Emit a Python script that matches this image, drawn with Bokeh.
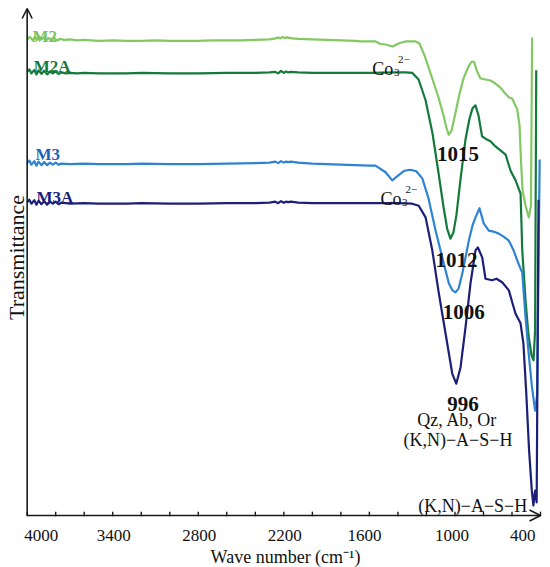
from bokeh.plotting import figure
from bokeh.models import Range1d, Label, Arrow, OpenHead
from bokeh.embed import file_html
from bokeh.resources import INLINE

# ---------------- data (wave number in cm^-1, transmittance in a.u.) ----------------
wn_m2 = [4000, 3980, 3960, 3945, 3930, 3915, 3900, 3885, 3870, 3850, 3830, 3810, 3790, 3770, 3740,
         3700, 3650, 3600, 3500, 3400, 3300, 3200, 3100, 3000, 2900, 2800, 2700, 2600, 2500, 2400,
         2300, 2260, 2240, 2225, 2210, 2195, 2180, 2160, 2140, 2100, 2000, 1900, 1800, 1700,
         1662, 1557, 1522, 1487, 1437, 1397, 1347, 1277, 1249, 1213, 1185, 1150, 1115, 1080, 1060,
         1044, 1024, 996, 968, 940, 905, 884, 866, 845, 821, 787, 751, 716, 681, 646, 618, 597, 585,
         564, 547, 537, 526, 505, 482, 467, 459]
t_m2 = [93.9, 94.4, 93.7, 94.5, 93.8, 94.5, 93.9, 94.3, 93.6, 94.2, 93.8, 94.2, 93.7, 94.0, 93.8,
        93.9, 93.7, 93.8, 93.6, 93.7, 93.6, 93.6, 93.7, 93.6, 93.6, 93.6, 93.7, 93.7, 93.7, 93.8,
        93.9, 94.1, 94.3, 94.1, 94.4, 94.2, 94.3, 94.2, 94.1, 94.0, 93.9, 93.8, 93.7, 93.6,
        93.5, 93.5, 93.0, 92.9, 92.5, 93.1, 93.5, 93.5, 93.1, 90.7, 88.4, 85.4, 82.4, 78.9, 76.5,
        75.1, 75.9, 79.5, 83.2, 86.2, 88.6, 89.5, 89.5, 87.6, 86.2, 86.0, 85.8, 85.2, 84.4, 83.2, 82.4, 82.2, 81.4,
        80.2, 76.9, 70.0, 64.1, 61.1, 58.8, 61.1, 94.3]

wn_m2a = [4000, 3985, 3970, 3950, 3935, 3920, 3900, 3880, 3860, 3840, 3820, 3800, 3780, 3760, 3730,
          3700, 3650, 3600, 3500, 3400, 3300, 3200, 3000, 2800, 2600, 2400, 2300, 2260, 2240, 2220,
          2200, 2185, 2170, 2150, 2100, 2000, 1800, 1600, 1400,
          1347, 1298, 1255, 1206, 1157, 1115, 1080, 1055, 1032, 1011, 990, 962, 927, 898, 877, 856,
          835, 810, 779, 751, 716, 681, 645, 610, 575, 540, 528, 505, 484, 463, 449, 438, 430]
t_m2a = [87.5, 88.0, 87.2, 87.9, 87.0, 87.8, 87.1, 87.7, 87.0, 87.6, 87.2, 87.6, 87.1, 87.4, 87.2,
         87.3, 87.2, 87.3, 87.2, 87.2, 87.2, 87.3, 87.2, 87.2, 87.3, 87.3, 87.4, 87.5, 87.2, 87.7,
         87.3, 87.6, 87.4, 87.5, 87.4, 87.3, 87.3, 87.3, 87.4,
         87.4, 87.3, 86.0, 81.9, 75.3, 67.5, 60.8, 56.6, 54.6, 55.8, 59.2, 66.1, 74.0, 78.3, 80.3, 80.9,
         78.9, 74.8, 74.2, 73.8, 72.8, 72.0, 71.2, 68.0, 66.1, 63.5, 52.3, 42.4, 35.5, 31.6, 30.6, 36.5, 87.8]

wn_m3 = [4000, 3985, 3970, 3950, 3935, 3920, 3900, 3880, 3860, 3840, 3820, 3800, 3780, 3760,
         3700, 3600, 3500, 3400, 3300, 3200, 3000, 2800, 2600, 2400, 2300, 2260, 2240, 2220,
         2200, 2185, 2170, 2150, 2100, 2000, 1900, 1800, 1700, 1600,
         1557, 1487, 1440, 1397, 1354, 1313, 1271, 1229, 1187, 1136, 1089, 1043, 1017, 996, 974,
         949, 926, 903, 877, 856, 828, 814, 798, 763, 730, 693, 659, 622, 589, 555, 528, 505, 485,
         461, 438, 424, 406]
t_m3 = [69.5, 70.0, 69.2, 69.9, 69.0, 69.8, 69.1, 69.7, 69.1, 69.6, 69.2, 69.6, 69.2, 69.4,
        69.3, 69.4, 69.3, 69.3, 69.3, 69.4, 69.3, 69.3, 69.4, 69.5, 69.6, 69.8, 69.5, 69.9,
        69.6, 69.8, 69.7, 69.8, 69.6, 69.4, 69.3, 69.2, 69.1, 69.0,
        69.0, 67.7, 66.1, 67.1, 68.0, 68.2, 67.9, 66.5, 62.7, 56.2, 50.9, 45.8, 44.4, 44.0, 44.8,
        47.7, 50.9, 54.2, 57.2, 58.8, 60.6, 59.2, 57.6, 56.2, 56.0, 55.6, 55.0, 54.2, 52.3, 49.7, 47.9, 39.1, 32.5,
        25.6, 20.7, 23.7, 70.2]

wn_m3a = [4000, 3985, 3970, 3950, 3935, 3920, 3900, 3880, 3860, 3840, 3820, 3800, 3780, 3760,
          3700, 3600, 3500, 3400, 3300, 3200, 3000, 2800, 2600, 2400, 2300, 2260, 2240, 2220,
          2200, 2185, 2170, 2150, 2100, 2000, 1800, 1600, 1400,
          1300, 1254, 1206, 1159, 1113, 1066, 1019, 991, 961, 926, 891, 856, 840, 809, 786, 739, 709,
          669, 622, 596, 575, 540, 520, 501, 480, 461, 450, 438, 427, 414]
t_m3a = [61.8, 62.3, 61.5, 62.2, 61.3, 62.1, 61.4, 62.0, 61.3, 61.9, 61.5, 61.9, 61.4, 61.7,
         61.5, 61.6, 61.5, 61.5, 61.5, 61.6, 61.5, 61.5, 61.6, 61.6, 61.7, 61.9, 61.6, 62.0,
         61.7, 61.9, 61.8, 61.9, 61.7, 61.6, 61.6, 61.6, 61.6,
         61.5, 61.1, 58.8, 52.3, 43.8, 35.9, 28.0, 26.0, 29.2, 37.1, 45.8, 52.3, 52.9, 50.9, 46.7, 46.4, 46.7,
         46.0, 44.4, 41.8, 39.8, 37.9, 33.9, 24.7, 12.8, 4.9, 2.0, 4.9, 2.6, 62.3]

series_names = ["M2", "M2A", "M3", "M3A"]
tick_values = [4000, 3400, 2800, 2200, 1600, 1000, 400]
tick_labels = ["4000", "3400", "2800", "2200", "1600", "1000", "400"]
minor_tick_values = [4000, 3800, 3600, 3400, 3200, 3000, 2800, 2600, 2400, 2200, 2000,
                     1800, 1600, 1400, 1200, 1000, 800, 600, 400]
x_title = "Wave number (cm\u207b\u00b9)"
y_title = "Transmittance"

# ---------------- styling ----------------
FONT = "Liberation Serif"
AXIS_COLOR = "#1a1a1a"
TEXT_COLOR = "#111111"
line_colors = {"M2": "#82c963", "M2A": "#147a3b", "M3": "#2f83d3", "M3A": "#1b1f78"}
name_colors = {"M2": "#7cc45c", "M2A": "#147a3b", "M3": "#1f62b4", "M3A": "#1b1f78"}

# the frame covers the whole figure; the axes (arrowed lines, inward ticks, labels)
# are drawn inside it so that they sit where the original has them
p = figure(width=550, height=567, x_range=Range1d(4187, 330), y_range=Range1d(-10.26, 101.58),
           output_backend="svg", toolbar_location=None,
           min_border_left=0, min_border_right=0, min_border_top=0, min_border_bottom=0)
p.xaxis.visible = False
p.yaxis.visible = False
p.grid.visible = False
p.outline_line_color = None

# axis lines with open arrow heads
p.add_layout(Arrow(end=OpenHead(size=10, line_width=1.6, line_color=AXIS_COLOR),
                   x_start=4000, y_start=0, x_end=4000, y_end=100,
                   line_width=1.6, line_color=AXIS_COLOR))
p.add_layout(Arrow(end=OpenHead(size=11, line_width=1.6, line_color=AXIS_COLOR),
                   x_start=4000, y_start=0, x_end=400, y_end=0,
                   line_width=1.6, line_color=AXIS_COLOR))

# tick marks (pointing inward)
n_ticks = len(minor_tick_values)
p.segment(x0=minor_tick_values, y0=[-0.15] * n_ticks, x1=minor_tick_values, y1=[0.75] * n_ticks,
          line_color=AXIS_COLOR, line_width=1.4)

# tick labels
tick_align = {"4000": ("left", -3), "400": ("right", -5), "1600": ("center", -5), "1000": ("center", -3)}
for v, s in zip(tick_values, tick_labels):
    al, off = tick_align.get(s, ("center", 1))
    p.add_layout(Label(x=v, y=-3.94, x_offset=off, text=s, text_align=al,
                       text_baseline="alphabetic", text_font=FONT, text_font_size="17px",
                       text_color=TEXT_COLOR))

# axis titles
p.add_layout(Label(x=2188, y=-8.2, text=x_title, text_align="center", text_baseline="alphabetic",
                   text_font=FONT, text_font_size="18px", text_color=TEXT_COLOR))
p.add_layout(Label(x=4075, y=50.9, text=y_title, text_align="center", text_baseline="middle",
                   angle=90, angle_units="deg",
                   text_font=FONT, text_font_size="22px", text_color=TEXT_COLOR))

# spectra
for name, xs, ys in zip(series_names, [wn_m2, wn_m2a, wn_m3, wn_m3a], [t_m2, t_m2a, t_m3, t_m3a]):
    p.line(xs, ys, line_color=line_colors[name], line_width=2.2, line_join="round")


def add_text(x, y, text, size, color=TEXT_COLOR, bold=False, align="left"):
    p.add_layout(Label(x=x, y=y, text=text, text_align=align, text_baseline="alphabetic",
                       text_font=FONT, text_font_size=size, text_color=color,
                       text_font_style="bold" if bold else "normal"))


# series names
add_text(3963, 94.5, "M2", "17px", name_colors["M2"], bold=True)
add_text(3954, 88.6, "M2A", "17px", name_colors["M2A"], bold=True)
add_text(3942, 71.2, "M3", "17px", name_colors["M3"], bold=True)
add_text(3935, 62.8, "M3A", "17px", name_colors["M3A"], bold=True)

# carbonate labels
add_text(1580, 88.1, "Co", "18px")
add_text(1427, 87.3, "3", "11px")
add_text(1399, 90.0, "2\u2212", "11px")
add_text(1522, 62.5, "Co", "18px")
add_text(1371, 61.7, "3", "11px")
add_text(1347, 64.3, "2\u2212", "11px")

# band labels
add_text(978, 71.3, "1015", "21px", bold=True, align="center")
add_text(989, 50.3, "1012", "21px", bold=True, align="center")
add_text(938, 40.1, "1006", "21px", bold=True, align="center")
add_text(943, 22.0, "996", "21px", bold=True, align="center")
add_text(984, 18.9, "Qz, Ab, Or", "18px", align="center")
add_text(979, 14.8, "(K,N)\u2212A\u2212S\u2212H", "18px", align="center")
add_text(493, 1.8, "(K,N)\u2212A\u2212S\u2212H", "18px", align="right")

open("out.html", "w").write(file_html(p, INLINE))
